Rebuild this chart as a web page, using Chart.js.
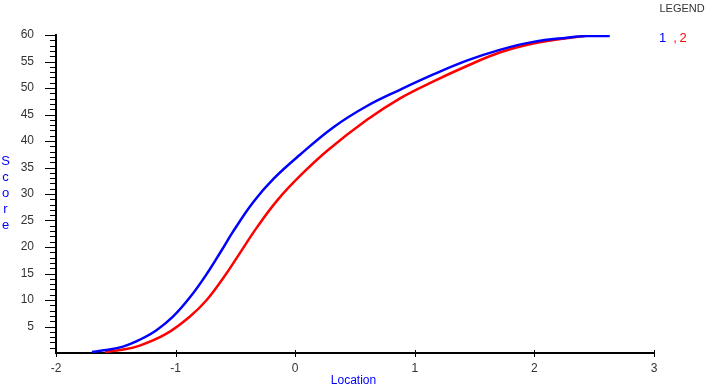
<!DOCTYPE html>
<html>
<head>
<meta charset="utf-8">
<script src="https://cdn.jsdelivr.net/npm/chart.js@4/dist/chart.umd.min.js"></script>
<style>
  html, body { margin: 0; padding: 0; background: #fff; }
  #wrap { width: 708px; height: 386px; position: relative; }
</style>
</head>
<body>
<div id="wrap"><canvas id="c" width="708" height="386"></canvas></div>
<script>
// Series 1 (blue)
const blueLocation = [-1.70, -1.60, -1.44, -1.30, -1.16, -1.02, -0.88, -0.74, -0.62, -0.52, -0.35, -0.18, 0.04, 0.32, 0.60, 0.88, 1.16, 1.44, 1.71, 1.99, 2.27, 2.44, 2.63];
const blueScore    = [0.2, 0.5, 1.2, 2.5, 4.3, 6.9, 10.5, 14.9, 19.2, 22.9, 28.5, 32.9, 37.4, 42.6, 46.6, 49.7, 52.6, 55.2, 57.2, 58.7, 59.5, 59.8, 59.8];
// Series 2 (red)
const redLocation = [-1.59, -1.45, -1.30, -1.08, -0.88, -0.74, -0.60, -0.49, -0.32, -0.15, 0.04, 0.27, 0.60, 0.88, 1.16, 1.44, 1.71, 1.99, 2.27, 2.42];
const redScore    = [0.2, 0.6, 1.4, 3.6, 6.9, 10.0, 14.2, 17.9, 23.7, 28.8, 33.4, 38.2, 44.0, 48.1, 51.3, 54.2, 56.7, 58.4, 59.4, 59.8];

const seriesNames = ['1', '2'];
const xTitle = 'Location';
const yTitle = 'Score';
const legendTitle = 'LEGEND';

const FONT = "'Liberation Sans', Arial, sans-serif";
const TICK_COLOR = '#333333';

const pairs = (xs, ys) => xs.map((x, i) => ({ x: x, y: ys[i] }));

const decorPlugin = {
  id: 'decor',
  afterDraw(chart) {
    const ctx = chart.ctx;
    const xs = chart.scales.x, ys = chart.scales.y;
    const area = chart.chartArea;
    ctx.save();
    ctx.strokeStyle = '#000';
    ctx.lineWidth = 1;
    // y ticks: minor every 1, major every 5
    for (let v = 1; v <= ys.max; v++) {
      const py = Math.round(ys.getPixelForValue(v)) + 0.5;
      const len = (v % 5 === 0) ? 11 : 6;
      ctx.beginPath();
      ctx.moveTo(area.left - len, py);
      ctx.lineTo(area.left, py);
      ctx.stroke();
    }
    // x ticks crossing the axis
    xs.ticks.forEach(t => {
      const px = Math.round(xs.getPixelForValue(t.value)) + 0.5;
      ctx.beginPath();
      ctx.moveTo(px, area.bottom - 3);
      ctx.lineTo(px, area.bottom + 4);
      ctx.stroke();
    });
    // Axis titles
    ctx.fillStyle = '#0000ff';
    ctx.font = '13px ' + FONT;
    ctx.textAlign = 'center';
    ctx.textBaseline = 'alphabetic';
    yTitle.split('').forEach((ch, i) => {
      ctx.fillText(ch, 5.5, 164.5 + i * 16);
    });
    ctx.font = '12px ' + FONT;
    ctx.fillText(xTitle, 353.5, 383.5);
    // Legend
    ctx.textAlign = 'left';
    ctx.fillStyle = TICK_COLOR;
    ctx.font = '11px ' + FONT;
    ctx.fillText(legendTitle, 659.5, 11.8);
    ctx.font = '13px ' + FONT;
    ctx.fillStyle = '#0000ff';
    ctx.fillText(seriesNames[0], 659, 41.7);
    ctx.fillStyle = '#ff0000';
    ctx.fillText(',', 673.3, 41.7);
    ctx.fillText(seriesNames[1], 679.5, 41.7);
    ctx.restore();
  }
};

new Chart(document.getElementById('c'), {
  type: 'line',
  data: {
    datasets: [
      {
        label: seriesNames[0],
        data: pairs(blueLocation, blueScore),
        borderColor: '#0000ff',
        backgroundColor: '#0000ff',
        borderWidth: 2.5,
        pointRadius: 0,
        fill: false,
        tension: 0.4
      },
      {
        label: seriesNames[1],
        data: pairs(redLocation, redScore),
        borderColor: '#ff0000',
        backgroundColor: '#ff0000',
        borderWidth: 2.5,
        pointRadius: 0,
        fill: false,
        tension: 0.4
      }
    ]
  },
  options: {
    responsive: false,
    animation: false,
    layout: { padding: { top: 35, right: 54, bottom: 0, left: 0 } },
    plugins: { legend: { display: false }, tooltip: { enabled: false } },
    scales: {
      x: {
        type: 'linear',
        min: -2, max: 3,
        ticks: { stepSize: 1, color: TICK_COLOR, font: { size: 12, family: FONT }, padding: 4 },
        grid: { drawOnChartArea: false, tickLength: 4, tickColor: 'transparent' },
        border: { color: '#000', width: 2 },
        afterFit: s => { s.height = 33; }
      },
      y: {
        min: 0, max: 60,
        ticks: {
          stepSize: 5, color: TICK_COLOR, font: { size: 12, family: FONT }, padding: 11,
          callback: v => (v === 0 ? '' : String(v))
        },
        grid: { drawOnChartArea: false, tickLength: 11, tickColor: 'transparent' },
        border: { color: '#000', width: 2 },
        afterFit: s => { s.width = 56; }
      }
    }
  },
  plugins: [decorPlugin]
});
</script>
</body>
</html>
